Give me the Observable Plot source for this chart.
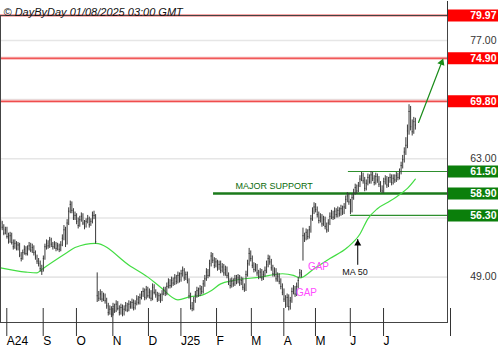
<!DOCTYPE html>
<html><head><meta charset="utf-8">
<script src="https://cdn.jsdelivr.net/npm/d3@7"></script>
<script src="https://cdn.jsdelivr.net/npm/@observablehq/plot@0.6"></script>
<style>
body{margin:0;background:#fff;font-family:"Liberation Sans",Arial,sans-serif;}
svg{display:block}
</style></head>
<body><div id="chart"></div>
<script>
const title = "© DayByDay 01/08/2025 03:00 GMT";
// Daily bars (trading-day index 0..263)
const close = [
54.8,55.4,54.9,54.2,54.6,53.8,53.2,53.9,53.1,52.6,
53.0,52.4,52.8,51.6,51.2,51.9,52.3,51.8,52.4,52.7,
52.2,52.5,51.9,51.4,50.9,50.6,50.0,49.7,51.2,52.6,
53.0,52.7,53.4,52.9,52.6,52.9,52.4,52.7,52.3,52.8,
53.6,54.6,52.9,55.4,56.8,57.6,56.9,56.0,56.3,55.6,
55.1,55.8,56.2,55.4,55.0,55.6,55.9,55.2,55.6,56.3,
56.3,53.2,46.8,46.5,47.0,46.4,46.8,46.2,45.6,44.8,
45.2,44.6,45.5,45.0,45.8,45.3,44.8,45.4,44.7,45.2,
45.6,45.1,45.8,45.5,46.0,45.4,45.9,46.4,46.0,46.6,
46.9,47.3,46.6,47.5,46.8,47.2,46.5,47.8,47.2,46.9,
46.4,46.8,46.3,47.0,47.5,47.1,47.9,48.4,48.0,48.6,
48.3,48.9,48.5,49.2,48.7,49.4,49.8,48.9,49.3,48.6,
46.8,45.6,45.3,46.2,46.9,47.4,47.0,47.6,47.3,48.2,
48.8,49.6,49.2,50.6,51.5,51.0,50.4,50.8,50.1,50.5,
49.8,50.2,49.5,49.9,49.2,48.4,48.0,48.5,48.2,48.8,
48.5,48.9,48.3,48.6,47.8,47.6,49.3,50.6,51.8,51.2,
50.4,49.9,50.2,49.5,49.1,49.6,48.9,49.3,49.8,50.5,
51.2,50.8,50.1,49.4,49.7,48.8,49.1,48.5,47.9,47.2,
46.4,45.8,46.6,45.5,46.2,47.3,47.6,47.0,47.9,48.6,
49.5,49.3,53.9,53.6,54.3,53.8,54.6,55.9,56.8,57.3,
57.0,56.4,55.7,56.1,55.3,55.8,55.0,54.6,55.4,56.2,
56.5,56.1,56.8,56.4,56.9,56.5,57.1,56.7,57.3,58.2,
58.6,57.9,56.8,58.4,59.0,59.6,59.2,59.8,60.6,61.0,
60.4,59.5,60.1,60.8,60.3,61.1,60.7,60.2,60.9,60.5,
60.0,59.4,59.2,60.3,60.6,59.9,60.4,60.8,60.2,60.7,
60.5,61.0,60.8,61.4,62.2,62.9,63.8,64.6,66.3,68.6,
66.8,66.2,67.4,67.0];
const high = [
55.3,55.8,55.6,55.2,54.9,54.9,54.2,54.3,54.2,53.4,
53.4,53.2,53.1,53.0,51.9,52.2,52.7,52.6,52.7,53.1,
53.0,52.9,52.7,52.1,51.6,51.2,50.9,50.4,51.5,52.9,
53.4,53.3,53.7,53.6,53.1,53.2,53.1,53.0,52.9,53.2,
54.0,55.1,54.9,55.8,57.2,58.0,57.9,57.1,56.7,56.5,
56.0,56.2,56.6,56.5,55.7,55.9,56.3,56.1,55.9,56.7,
56.8,56.4,49.5,47.3,47.5,47.3,47.1,47.0,46.5,45.9,
45.6,45.5,45.9,45.8,46.2,46.1,45.6,45.8,45.7,45.6,
46.0,45.9,46.2,46.1,46.4,46.3,46.2,46.8,46.7,47.0,
47.3,47.7,47.6,47.9,47.8,47.6,47.4,48.2,48.1,47.5,
47.2,47.1,47.0,47.4,47.8,47.8,48.3,48.8,48.7,49.0,
48.9,49.3,49.2,49.6,49.5,49.8,50.2,50.0,49.6,49.6,
48.8,47.1,46.0,46.6,47.3,47.8,47.7,48.0,47.9,48.6,
49.2,50.0,49.9,51.0,51.9,51.8,51.3,51.2,51.0,50.9,
50.9,50.6,50.5,50.3,50.2,49.5,48.8,48.9,48.8,49.2,
49.2,49.3,49.2,49.0,48.9,48.2,49.7,51.0,52.4,52.1,
51.5,50.7,50.6,50.5,49.8,50.0,49.9,49.7,50.2,50.9,
51.6,51.5,51.1,50.4,50.1,50.0,49.5,49.4,48.8,48.2,
47.6,46.8,47.0,46.9,46.6,47.7,48.0,47.9,48.3,49.0,
49.9,49.8,54.8,54.2,54.7,54.6,55.0,56.3,57.2,57.8,
57.7,57.3,56.7,56.5,56.4,56.2,56.1,55.4,55.8,56.6,
56.9,56.8,57.2,57.1,57.3,57.2,57.5,57.4,57.7,58.6,
59.0,58.9,58.2,58.8,59.4,60.0,59.9,60.2,61.0,61.4,
61.3,60.8,60.5,61.2,61.1,61.5,61.4,61.0,61.3,61.2,
60.9,60.3,59.8,60.7,61.0,60.9,60.8,61.2,61.1,61.1,
61.1,61.4,61.3,61.8,62.6,63.4,64.3,65.5,67.0,69.4,
69.2,67.6,67.9,67.8];
const low = [
54.4,54.6,54.5,53.9,54.0,53.5,52.9,53.0,52.8,52.2,
52.3,52.1,52.1,51.3,50.8,51.0,51.6,51.5,51.5,52.1,
51.9,51.8,51.5,51.0,50.5,50.2,49.6,49.2,49.6,51.0,
52.2,52.3,52.4,52.5,52.2,52.3,52.0,52.1,51.9,52.0,
52.6,53.3,52.5,52.8,55.1,56.5,56.5,55.7,55.7,55.2,
54.7,54.9,55.5,55.1,54.6,54.8,55.3,54.8,55.0,55.3,
55.8,52.9,46.0,46.1,46.2,46.0,46.1,45.8,45.2,44.4,
44.5,44.2,44.4,44.7,44.8,45.0,44.4,44.5,44.3,44.4,
44.9,44.8,44.9,45.2,45.2,45.0,45.1,45.6,45.7,45.7,
46.3,46.6,46.2,46.3,46.5,46.4,46.1,46.2,46.9,46.5,
46.0,46.1,45.9,46.1,46.8,46.7,46.8,47.6,47.6,47.7,
47.9,48.0,48.1,48.2,48.3,48.4,49.0,48.5,48.6,48.2,
46.4,45.1,44.9,45.0,45.9,46.5,46.6,46.7,46.9,47.0,
47.8,48.5,48.8,49.0,50.2,50.6,50.0,50.1,49.7,49.8,
49.4,49.5,49.1,49.1,48.8,48.0,47.6,47.7,47.8,47.9,
48.1,48.2,47.9,48.0,47.4,47.2,47.3,49.0,50.3,50.8,
50.0,49.5,49.6,49.1,48.7,48.8,48.5,48.6,49.0,49.4,
50.1,50.4,49.7,49.0,49.0,48.4,48.4,48.1,47.5,46.8,
46.0,45.3,45.4,45.0,45.1,45.9,46.9,46.6,46.7,47.6,
48.9,48.9,50.9,53.1,53.3,53.4,53.5,54.2,55.6,56.4,
56.6,56.0,55.3,55.4,54.9,55.0,54.6,54.2,54.3,55.1,
55.8,55.7,55.8,56.0,56.0,56.1,56.2,56.3,56.4,57.0,
57.8,57.5,56.4,56.6,58.1,58.7,58.8,59.0,59.6,60.3,
60.0,59.1,59.2,59.8,60.0,60.0,60.3,59.8,59.9,60.1,
59.6,59.0,58.9,58.9,59.9,59.5,59.6,60.1,59.8,59.9,
60.1,60.2,60.4,60.5,61.1,61.8,62.5,63.4,64.2,65.8,
66.3,65.7,65.9,66.4];

// 50-day moving average (day index, value)
const maDay = [1,17,24,27,43,48,61,83,94,102,113,121,127,134,140,148,165,179,186,190,199,209,220,228,233,239,247,254,258,263];
const maVal = [50.1,49.6,49.5,49.9,51.9,52.5,53.0,50.3,49.0,47.8,46.3,46.7,46.8,47.4,48.2,48.6,49.0,49.4,49.2,48.9,50.0,51.2,52.5,54.1,55.9,57.1,58.0,58.9,59.5,60.6];

// month axis
const monthTicks = [3,26,47,70,92.5,113,135.5,157.5,178,198,220,241];
const monthLabels = ["A24","S","O","N","D","J25","F","M","A","M","J","J"];

// levels
const resistance = [79.97,74.90,69.80];
const majorSupport = 58.90;
const majorSupportFrom = 135.5;
const minorSupport = [61.50,56.30];
const minorSupportFrom = [220.7,222];
const axisTicks = [49,63,77];
const gridTicks = [49,56,63,70,77];

// annotations
const projDay = [265,279.6];
const projVal = [67.3,74.4];
const maArrowDay = 226.6, maArrowFrom = 50.4, maArrowTo = 53.45;
const gapLabels = [{day:201.8, v:50.2},{day:194.2, v:47.18}];

const xDomain = [0.92, 283.3];
const yDomain = [43.63, 79.96];

const bars = close.map((c,i)=>({i, c, h:high[i], l:low[i]}));
const ma = maDay.map((d,k)=>({d, v:maVal[k]}));
const proj = projDay.map((d,k)=>({d, v:projVal[k]}));
const supports = minorSupport.map((v,k)=>({v, from:minorSupportFrom[k]}));
const allSupports = [majorSupport, ...minorSupport];
const fmt = d3.format(".2f");
const labelMap = new Map(monthTicks.map((t,k)=>[t, monthLabels[k]]));

const chart = Plot.plot({
  width:500, height:350,
  marginTop:15, marginBottom:28, marginLeft:0, marginRight:53,
  x:{domain:xDomain, axis:null},
  y:{domain:yDomain, axis:null},
  style:{fontFamily:"Liberation Sans, Arial, sans-serif", background:"#fff", color:"#000", overflow:"visible"},
  marks:[
    Plot.ruleY(gridTicks,{stroke:"#e6e6e6", strokeWidth:1.6}),
    Plot.ruleY(resistance,{stroke:"#f8b4b4", strokeWidth:3}),
    Plot.ruleY(resistance,{stroke:"#ee3a3a", strokeWidth:1}),
    Plot.ruleY([majorSupport],{x1:majorSupportFrom, x2:xDomain[1], stroke:"#1b7a1b", strokeWidth:2.6}),
    Plot.ruleY(supports,{y:"v", x1:"from", x2:xDomain[1], stroke:"#2e8f2e", strokeWidth:1.2}),
    Plot.line(ma,{x:"d", y:"v", stroke:"#44dd44", strokeWidth:1.2, curve:"monotone-x"}),
    Plot.ruleX(bars,{x:"i", y1:"l", y2:"h", stroke:"#3a3a3a", strokeWidth:1}),
    Plot.ruleY(bars,{y:"c", x1:"i", x2:d=>d.i+0.7, stroke:"#3a3a3a", strokeWidth:1}),
    Plot.text(["MAJOR SUPPORT"],{x:149.3, y:59.78, text:d=>d, textAnchor:"start", fontSize:9, fill:"#0b6b0b"}),
    Plot.text(gapLabels,{x:"day", y:"v", text:()=> "GAP", fontSize:10, fill:"#ff4dff"}),
    Plot.line(proj,{x:"d", y:"v", stroke:"#1a8c1a", strokeWidth:1.2}),
    Plot.dot([proj[1]],{x:"d", y:"v", symbol:"triangle", r:2.8, fill:"#1a8c1a", stroke:null, rotate:21}),
    Plot.ruleX([maArrowDay],{y1:maArrowFrom, y2:maArrowTo, stroke:"#000", strokeWidth:1}),
    Plot.dot([maArrowDay],{x:d=>d, y:maArrowTo, dy:4, symbol:"triangle", r:2.6, fill:"#000", stroke:null}),
    Plot.text(["MA 50"],{x:224.9, y:49.58, text:d=>d, fontSize:9, fill:"#111"}),
    Plot.frame({stroke:"#444"}),
    // title in the top margin
    Plot.text([title],{frameAnchor:"top-left", dx:3, dy:-7.5, text:d=>d, textAnchor:"start", fontSize:11, fontStyle:"italic", fill:"#111"}),
    // right-hand labels
    Plot.text(axisTicks,{y:d=>d, text:d=>fmt(d), frameAnchor:"right", dx:49, textAnchor:"end", fontSize:10.5, fill:"#333"}),
    Plot.ruleY(resistance,{stroke:"#ff0000", strokeWidth:12, insetLeft:397, dx:51}),
    Plot.ruleY(allSupports,{stroke:"#0b7f0b", strokeWidth:12, insetLeft:397, dx:51}),
    Plot.text([...resistance, ...allSupports],{y:d=>d, text:d=>fmt(d), frameAnchor:"right", dx:49, textAnchor:"end", fontSize:10.5, fontWeight:"bold", fill:"#fff"}),
    Plot.axisX([...monthTicks, xDomain[1]],{tickSize:28, tickPadding:0, tickFormat:d=>labelMap.get(d) ?? "", textAnchor:"start", dx:3, dy:-14, fontSize:12, stroke:"#333", fill:"#000"}),
    Plot.axisX([xDomain[1]],{anchor:"top", tickSize:15, tickFormat:()=>"", stroke:"#333"})
  ]
});
document.getElementById("chart").appendChild(chart);
</script>
</body></html>
